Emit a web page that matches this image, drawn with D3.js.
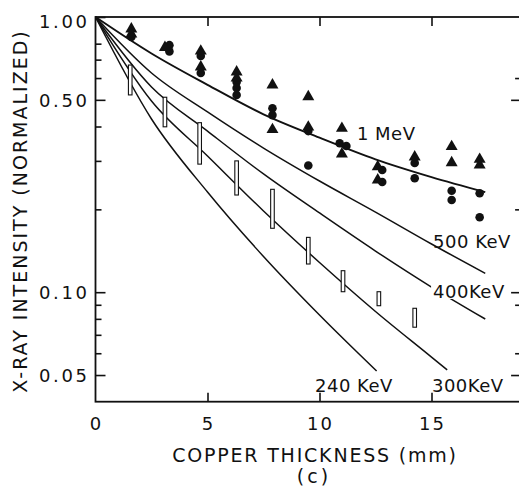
<!DOCTYPE html>
<html>
<head>
<meta charset="utf-8">
<script src="https://cdn.jsdelivr.net/npm/d3@7"></script>
<style>
body { margin: 0; background: #fff; }
text { font-family: "DejaVu Sans", sans-serif; fill: #111; }
</style>
</head>
<body>
<div id="chart"></div>
<script>
// thickness (mm) / normalized intensity
var x1MeV = [0, 2.5, 5, 7.5, 10, 12.5, 15, 17.4];
var y1MeV = [1.0, 0.737, 0.567, 0.443, 0.3645, 0.304, 0.262, 0.231];
var x500 = [0, 2.5, 5, 7.5, 10, 12.5, 15, 17.4];
var y500 = [1.0, 0.626, 0.452, 0.334, 0.2535, 0.1955, 0.1497, 0.1171];
var x400 = [0, 2.5, 5, 7.5, 10, 12.5, 15, 17.4];
var y400 = [1.0, 0.557, 0.385, 0.2689, 0.194, 0.1411, 0.1044, 0.0799];
var x300 = [0, 2.5, 5, 7.5, 10, 12.5, 15, 15.7];
var y300 = [1.0, 0.4953, 0.3126, 0.1973, 0.1282, 0.0851, 0.0581, 0.0522];
var x240 = [0, 2.5, 5, 7.5, 10, 12.55];
var y240 = [1.0, 0.426, 0.2312, 0.1348, 0.0826, 0.0517];

var curveNames = ["1 MeV", "500 KeV", "400KeV", "300KeV", "240 KeV"];

// measured points
var triX = [1.6, 1.6, 3.1, 4.7, 4.7, 6.3, 6.3, 7.9, 7.9, 9.5, 9.5, 11.0, 11.0, 12.6, 12.6, 14.25, 15.9, 15.9, 17.15, 17.15];
var triY = [0.905, 0.867, 0.775, 0.752, 0.658, 0.631, 0.60, 0.566, 0.39, 0.513, 0.398, 0.394, 0.318, 0.2858, 0.2557, 0.31, 0.338, 0.2954, 0.304, 0.290];
var circX = [1.6, 3.3, 3.3, 4.7, 4.7, 6.3, 6.3, 6.3, 7.9, 7.9, 9.5, 9.5, 10.9, 11.2, 12.8, 12.8, 14.25, 14.25, 15.9, 15.9, 17.15, 17.15];
var circY = [0.846, 0.79, 0.75, 0.722, 0.626, 0.58, 0.552, 0.521, 0.466, 0.44, 0.385, 0.2887, 0.3476, 0.34, 0.278, 0.2514, 0.2947, 0.2594, 0.2337, 0.2163, 0.2288, 0.1872];

// error bars (open rectangles)
var barX = [1.55, 3.1, 4.65, 6.3, 7.9, 9.5, 11.05, 12.65, 14.25];
var barLo = [0.521, 0.399, 0.292, 0.2255, 0.1707, 0.1266, 0.1004, 0.0893, 0.0746];
var barHi = [0.669, 0.511, 0.413, 0.300, 0.2365, 0.1582, 0.1197, 0.1004, 0.0874];

var majorTicks = [1.0, 0.5, 0.1, 0.05];
var majorLabels = ["1.00", "0.50", "0.10", "0.05"];
var minorTicks = [0.8, 0.7, 0.6, 0.4, 0.3, 0.2, 0.09, 0.08, 0.07, 0.06];
var rightMajor = [0.5, 0.1, 0.05];
var rightMinor = [0.6, 0.2, 0.09, 0.06];
var xTicks = [0, 5, 10, 15];

var width = 519, height = 487;
var svg = d3.select("#chart").append("svg")
	.attr("width", width)
	.attr("height", height);

var x = d3.scaleLinear().domain([0, 19]).range([95.5, 521.1]);
var y = d3.scaleLog().domain([0.04, 1]).range([401.7, 17]);

// frame
svg.append("rect")
	.attr("x", x(0)).attr("y", y(1))
	.attr("width", x(19) - x(0)).attr("height", y(0.04) - y(1))
	.attr("fill", "none").attr("stroke", "#111").attr("stroke-width", 1.8);

function styleAxis(g) {
	g.select(".domain").remove();
	g.selectAll(".tick line").attr("stroke", "#111").attr("stroke-width", 1.6);
}

// left axis: inward ticks
svg.append("g")
	.attr("transform", "translate(" + x(0) + ",0)")
	.call(d3.axisLeft(y).tickValues(majorTicks).tickSize(-10).tickSizeOuter(0).tickFormat(""))
	.call(styleAxis);
svg.append("g")
	.attr("transform", "translate(" + x(0) + ",0)")
	.call(d3.axisLeft(y).tickValues(minorTicks).tickSize(-6).tickSizeOuter(0).tickFormat(""))
	.call(styleAxis);
svg.selectAll("text.ylab")
	.data(majorTicks)
	.enter()
	.append("text")
	.attr("class", "ylab")
	.attr("x", x(0) - 6)
	.attr("y", function(d) { return Math.max(y(d) + 7, 28); })
	.attr("text-anchor", "end")
	.attr("font-size", 18)
	.attr("letter-spacing", 2.6)
	.text(function(d, i) { return majorLabels[i]; });

// right axis (mostly cut off)
svg.append("g")
	.attr("transform", "translate(" + x(19) + ",0)")
	.call(d3.axisRight(y).tickValues(rightMajor).tickSize(-10).tickSizeOuter(0).tickFormat(""))
	.call(styleAxis);
svg.append("g")
	.attr("transform", "translate(" + x(19) + ",0)")
	.call(d3.axisRight(y).tickValues(rightMinor).tickSize(-6).tickSizeOuter(0).tickFormat(""))
	.call(styleAxis);

// bottom and top x ticks
svg.append("g")
	.attr("transform", "translate(0," + y(0.04) + ")")
	.call(d3.axisBottom(x).tickValues(xTicks.slice(1)).tickSize(-9).tickSizeOuter(0).tickFormat(""))
	.call(styleAxis);
svg.append("g")
	.attr("transform", "translate(0," + y(1) + ")")
	.call(d3.axisTop(x).tickValues(xTicks.slice(1)).tickSize(-9).tickSizeOuter(0).tickFormat(""))
	.call(styleAxis);
svg.selectAll("text.xlab")
	.data(xTicks)
	.enter()
	.append("text")
	.attr("class", "xlab")
	.attr("x", function(d) { return x(d) + 1; })
	.attr("y", 430)
	.attr("text-anchor", "middle")
	.attr("font-size", 18)
	.attr("letter-spacing", 2)
	.text(function(d) { return d; });

// axis titles
svg.append("text")
	.attr("x", 315).attr("y", 461.5)
	.attr("text-anchor", "middle")
	.attr("font-size", 19)
	.attr("letter-spacing", 1.8)
	.text("COPPER THICKNESS (mm)");
svg.append("text")
	.attr("x", 314).attr("y", 483)
	.attr("text-anchor", "middle")
	.attr("font-size", 19)
	.attr("letter-spacing", 3)
	.text("(c)");
svg.append("text")
	.attr("transform", "translate(27,211) rotate(-90)")
	.attr("text-anchor", "middle")
	.attr("font-size", 19)
	.attr("letter-spacing", 2)
	.text("X-RAY INTENSITY (NORMALIZED)");

// curves
var curveXs = [x1MeV, x500, x400, x300, x240];
var curveYs = [y1MeV, y500, y400, y300, y240];
var line = d3.line()
	.x(function(d) { return x(d[0]); })
	.y(function(d) { return y(d[1]); })
	.curve(d3.curveMonotoneX);
var plot = svg.append("g");
for (var i = 0; i < curveXs.length; i++) {
	var pts = curveXs[i].map(function(v, j) { return [v, curveYs[i][j]]; });
	plot.append("path")
		.attr("d", line(pts))
		.attr("fill", "none")
		.attr("stroke", "#111")
		.attr("stroke-width", i == 0 ? 1.9 : 1.5);
}

// curve labels, positions in data units
var labelAt = [[11.67, 0.357], [15.07, 0.1447], [15.07, 0.0953], [15.02, 0.0434], [9.8, 0.0434]];
var labels = svg.append("g");
for (var i = 0; i < curveNames.length; i++) {
	var t = labels.append("text")
		.attr("x", x(labelAt[i][0]))
		.attr("y", y(labelAt[i][1]))
		.attr("font-size", 18)
		.attr("letter-spacing", 0.5)
		.text(curveNames[i]);
	if (i == 2) {
		// the 400 KeV curve is broken where its label sits
		var bb = t.node().getBBox();
		labels.insert("rect", "text")
			.attr("x", bb.x - 2).attr("y", bb.y)
			.attr("width", bb.width + 2).attr("height", bb.height - 3)
			.attr("fill", "#fff");
	}
}

// error bars
svg.selectAll("rect.bar")
	.data(barX)
	.enter()
	.append("rect")
	.attr("class", "bar")
	.attr("x", function(d) { return x(d) - 1.8; })
	.attr("y", function(d, i) { return y(barHi[i]); })
	.attr("width", 3.6)
	.attr("height", function(d, i) { return y(barLo[i]) - y(barHi[i]); })
	.attr("fill", "#fff")
	.attr("stroke", "#111")
	.attr("stroke-width", 1.1);

// markers
svg.selectAll("circle.pt")
	.data(circX)
	.enter()
	.append("circle")
	.attr("class", "pt")
	.attr("cx", function(d) { return x(d); })
	.attr("cy", function(d, i) { return y(circY[i]); })
	.attr("r", 4.3)
	.attr("fill", "#111");
var tri = d3.symbol().type(d3.symbolTriangle).size(62);
svg.selectAll("path.tri")
	.data(triX)
	.enter()
	.append("path")
	.attr("class", "tri")
	.attr("transform", function(d, i) { return "translate(" + x(d) + "," + y(triY[i]) + ")"; })
	.attr("d", tri)
	.attr("fill", "#111");
</script>
</body>
</html>
